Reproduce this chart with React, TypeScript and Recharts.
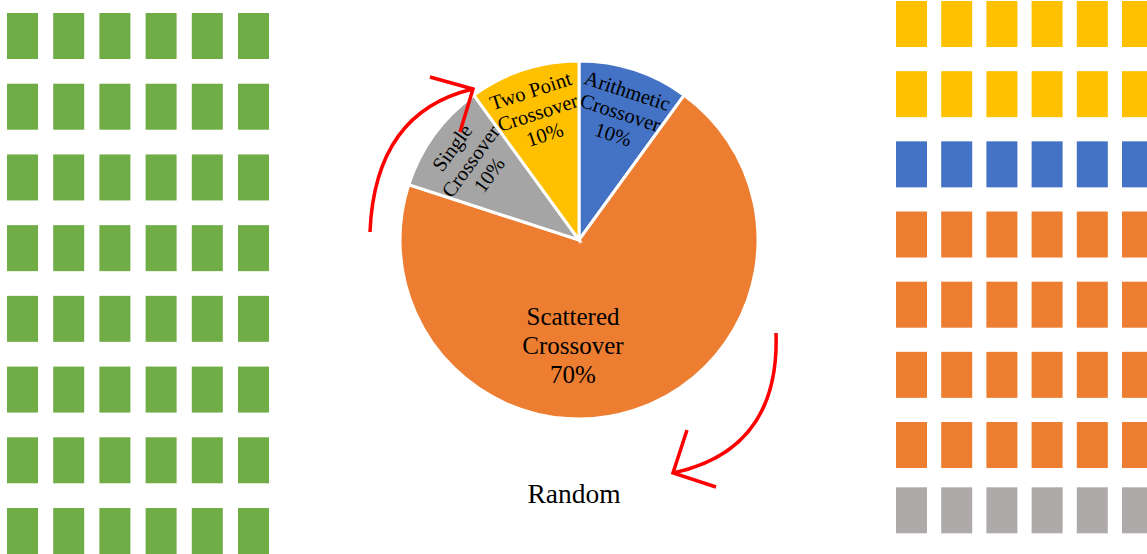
import React from 'react';
import { PieChart, Pie, Cell, ScatterChart, Scatter, XAxis, YAxis } from 'recharts';

// pie: crossover methods and their share
const METHODS = ['Arithmetic Crossover', 'Scattered Crossover', 'Single Crossover', 'Two Point Crossover'];
const SHARES = [10, 70, 10, 10];
const PIE_COLORS = ['#4472C4', '#ED7D31', '#A5A5A5', '#FFC000'];

// waffle grids (column / row indices)
const GRID_COLS = [0, 1, 2, 3, 4, 5];
const LEFT_ROWS = [0, 1, 2, 3, 4, 5, 6, 7];
const RIGHT_ROWS = [0, 1, 2, 3, 4, 5, 6, 6.93];
const RIGHT_ROW_COLORS = ['#FFC000', '#FFC000', '#4472C4', '#ED7D31', '#ED7D31', '#ED7D31', '#ED7D31', '#AEAAAA'];

const FONT = '"Liberation Serif", "Times New Roman", serif';

const pieData = METHODS.map((name, i) => ({ name, value: SHARES[i] }));

const leftCells = LEFT_ROWS.flatMap(row => GRID_COLS.map(col => ({ col, row, color: '#70AD47' })));
const rightCells = RIGHT_ROWS.flatMap((row, r) => GRID_COLS.map(col => ({ col, row, color: RIGHT_ROW_COLORS[r] })));

const Cellrect = (props: any) => (
  <rect x={props.cx - 15.5} y={props.cy - 23} width={31} height={46} fill={props.payload.color} />
);

const RAD = Math.PI / 180;

const renderLabel = (props: any) => {
  const { cx, cy, midAngle, name, value, index } = props;
  const cut = name.lastIndexOf(' ');
  const lines = [name.slice(0, cut), name.slice(cut + 1), `${value}%`];
  if (index === 1) {
    // big slice: horizontal label below centre
    return (
      <text x={cx - 6} y={cy + 105} textAnchor="middle" fontFamily={FONT} fontSize={25} fill="#000">
        {lines.map((l, i) => (
          <tspan key={i} x={cx - 6} y={cy + 105 + (i - 1) * 29} dominantBaseline="central">{l}</tspan>
        ))}
      </text>
    );
  }
  const r = 134;
  const x = cx + r * Math.cos(midAngle * RAD);
  const y = cy - r * Math.sin(midAngle * RAD);
  const rot = 90 - midAngle;
  return (
    <text transform={`translate(${x},${y}) rotate(${rot})`} textAnchor="middle" fontFamily={FONT} fontSize={20.5} fill="#000">
      {lines.map((l, i) => (
        <tspan key={i} x={0} y={(i - 1) * 23} dominantBaseline="central">{l}</tspan>
      ))}
    </text>
  );
};

const App: React.FC = () => {
  return (
    <div style={{ position: 'absolute', left: 0, top: 0, width: 1147, height: 554, background: '#fff', overflow: 'hidden' }}>
      {/* left waffle */}
      <div style={{ position: 'absolute', left: 0, top: 0 }}>
        <ScatterChart width={280} height={554} margin={{ top: 36, right: 26.5, bottom: 23, left: 22.5 }}>
          <XAxis type="number" dataKey="col" domain={[0, 5]} hide />
          <YAxis type="number" dataKey="row" domain={[0, 7]} reversed hide />
          <Scatter data={leftCells} shape={<Cellrect />} isAnimationActive={false} />
        </ScatterChart>
      </div>

      {/* right waffle */}
      <div style={{ position: 'absolute', left: 880, top: 0 }}>
        <ScatterChart width={267} height={554} margin={{ top: 24, right: 9.5, bottom: 38.8, left: 31.5 }}>
          <XAxis type="number" dataKey="col" domain={[0, 5]} hide />
          <YAxis type="number" dataKey="row" domain={[0, 7]} reversed hide />
          <Scatter data={rightCells} shape={<Cellrect />} isAnimationActive={false} />
        </ScatterChart>
      </div>

      {/* pie */}
      <div style={{ position: 'absolute', left: 300, top: 0 }}>
        <PieChart width={560} height={554} margin={{ top: 0, right: 0, bottom: 0, left: 0 }}>
          <Pie
            data={pieData}
            dataKey="value"
            cx={279}
            cy={240}
            outerRadius={179}
            startAngle={90}
            endAngle={-270}
            stroke="#fff"
            strokeWidth={3}
            label={renderLabel}
            labelLine={false}
            isAnimationActive={false}
          >
            {pieData.map((_, i) => (
              <Cell key={i} fill={PIE_COLORS[i]} />
            ))}
          </Pie>
        </PieChart>
      </div>

      {/* arrows + caption */}
      <svg width={1147} height={554} style={{ position: 'absolute', left: 0, top: 0, pointerEvents: 'none' }}>
        <g stroke="#FF0000" strokeWidth={3.5} fill="none">
          <path d="M370,232 Q375,112 473,89" />
          <path d="M430,77 L473,89 L460,132" />
          <path d="M776,333 Q780,450 673,473" />
          <path d="M687,430 L673,473 L716,487" />
        </g>
        <text x={574} y={493} textAnchor="middle" dominantBaseline="central" fontFamily={FONT} fontSize={27.5} fill="#000">
          Random
        </text>
      </svg>
    </div>
  );
};

export default App;
